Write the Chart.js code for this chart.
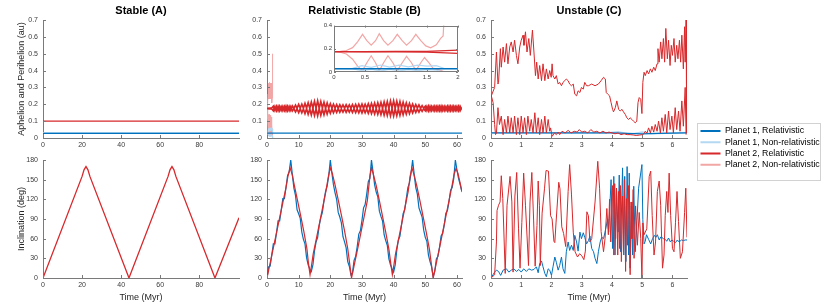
<!DOCTYPE html>
<html>
<head>
<meta charset="utf-8">
<script src="https://cdn.jsdelivr.net/npm/chart.js@4.4.1/dist/chart.umd.min.js"></script>
<style>
  body { margin: 0; width: 830px; height: 305px; background: #fff; position: relative; overflow: hidden; }
  canvas { position: absolute; }
  #legendBox { position: absolute; left: 697px; top: 123px; width: 122px; height: 56px; border: 1px solid #d2d2d2; background: #fff; }
</style>
</head>
<body>
<canvas id="aTop"></canvas>
<canvas id="bTop"></canvas>
<canvas id="cTop"></canvas>
<canvas id="aBot"></canvas>
<canvas id="bBot"></canvas>
<canvas id="cBot"></canvas>
<canvas id="inset"></canvas>
<div id="legendBox"></div>
<canvas id="legend"></canvas>
<script>
// ---- data (au for apsides, deg for inclination, Myr for time) ----
const seriesNames = ['Planet 1, Relativistic', 'Planet 1, Non-relativistic', 'Planet 2, Relativistic', 'Planet 2, Non-relativistic'];

const xTicksA = [0, 20, 40, 60, 80];
const xTicksB = [0, 10, 20, 30, 40, 50, 60];
const xTicksC = [0, 1, 2, 3, 4, 5, 6];
const yTicksAps = [0, 0.1, 0.2, 0.3, 0.4, 0.5, 0.6, 0.7];
const yTicksInc = [0, 30, 60, 90, 120, 150, 180];
const xTicksInset = [0, 0.5, 1, 1.5, 2];
const yTicksInset = [0, 0.2, 0.4];

// Stable (A)
const aP1 = [[0, 0.028], [100.3, 0.028]];
const aP1n = [[0, 0.032], [100.3, 0.032]];
const aP2 = [[0, 0.1], [100.3, 0.1]];
const aInc = [[0, 0], [20, 155], [21, 165], [22, 170], [23, 165], [24, 155], [44, 0],
  [64, 155], [65, 165], [66, 170], [67, 165], [68, 155], [88, 0], [100.3, 92]];

// Relativistic Stable (B): planet 2 apsides sampled every 0.5 Myr
const bStep = 0.5;
const bAp = [
  .175,.176,.177,.178,.189,.163,.188,.162,.189,.164,
  .188,.163,.189,.162,.188,.164,.19,.176,.195,.177,
  .199,.178,.2,.177,.205,.178,.209,.177,.213,.178,
  .217,.178,.22,.177,.216,.178,.212,.177,.208,.178,
  .203,.177,.2,.178,.198,.177,.197,.178,.196,.177,
  .197,.178,.196,.177,.198,.178,.199,.177,.2,.178,
  .201,.177,.2,.178,.203,.177,.205,.178,.207,.177,
  .209,.178,.211,.177,.214,.178,.216,.177,.219,.178,
  .22,.177,.218,.178,.216,.177,.212,.178,.208,.177,
  .205,.178,.201,.177,.198,.178,.196,.177,.192,.176,
  .188,.163,.189,.162,.188,.164,.189,.163,.188,.162,
  .189,.163,.188,.164,.189,.162,.188,.163,.189,.164,
  .188,.162,.189,.17
];
const bPe = [
  .175,.174,.173,.172,.161,.187,.162,.188,.161,.186,
  .162,.187,.161,.188,.162,.186,.16,.173,.155,.172,
  .151,.173,.15,.172,.145,.173,.141,.172,.137,.173,
  .134,.172,.132,.173,.135,.172,.138,.173,.142,.172,
  .147,.173,.15,.172,.152,.173,.153,.172,.154,.173,
  .153,.172,.154,.173,.152,.172,.151,.173,.15,.172,
  .149,.173,.15,.172,.147,.173,.145,.172,.143,.173,
  .141,.172,.139,.173,.136,.172,.134,.173,.132,.172,
  .131,.173,.133,.172,.135,.173,.138,.172,.142,.173,
  .145,.172,.149,.173,.152,.172,.154,.173,.158,.174,
  .162,.187,.161,.188,.162,.186,.161,.187,.162,.188,
  .161,.187,.162,.186,.161,.188,.162,.187,.161,.186,
  .162,.188,.161,.18
];
const bP1 = [[0, 0.029], [61.6, 0.029]];
const bP1nAp = [[0, .03], [0.3, .032], [0.45, .055], [0.6, .04], [0.75, .06], [0.9, .042], [1.05, .06],
  [1.2, .045], [1.35, .06], [1.5, .05], [1.65, .055], [1.78, .03]];
const bP1nPe = [[0, .028], [0.3, .026], [0.45, .012], [0.6, .022], [0.75, .01], [0.9, .022], [1.05, .01],
  [1.2, .02], [1.35, .012], [1.5, .02], [1.65, .015], [1.78, 0]];
const bP2nAp = [[0, .175], [0.1, .178], [0.2, .185], [0.3, .21], [0.38, .26], [0.46, .325], [0.53, .27],
  [0.6, .232], [0.67, .27], [0.73, .33], [0.8, .27], [0.87, .232], [0.95, .27], [1.02, .325], [1.1, .27],
  [1.17, .232], [1.25, .27], [1.32, .325], [1.4, .27], [1.48, .225], [1.56, .208], [1.65, .235],
  [1.72, .29], [1.76, .31], [1.78, .5]];
const bP2nPe = [[0, .175], [0.1, .17], [0.2, .155], [0.3, .11], [0.38, .05], [0.46, .012], [0.53, .08],
  [0.6, .14], [0.67, .08], [0.73, .01], [0.8, .08], [0.87, .14], [0.95, .08], [1.02, .01], [1.1, .08],
  [1.17, .135], [1.25, .08], [1.32, .012], [1.4, .08], [1.46, .125], [1.53, .08], [1.6, .03],
  [1.68, .02], [1.74, .01], [1.78, 0]];
const bIncP2 = [[0, 0], [1, 23], [2, 46], [3, 69], [4, 92], [5, 115], [6, 138], [6.6, 155], [7.3, 168],
  [8, 157], [8.6, 142], [9.6, 119], [10.6, 96], [11.6, 72], [12.6, 45], [13.1, 22], [13.6, 5], [14.1, 20],
  [14.6, 37], [15.6, 60], [16.6, 84], [17.6, 108], [18.6, 132], [19.4, 155], [20, 168], [20.6, 160],
  [21.5, 142], [22.5, 119], [23.5, 96], [24.5, 72], [25.5, 45], [26.7, 0], [27.7, 23], [28.7, 46],
  [29.7, 70], [30.7, 94], [31.7, 118], [32.5, 155], [33, 168], [33.6, 158], [34.5, 141], [35.5, 118],
  [36.5, 94], [37.5, 70], [38.5, 44], [39.1, 22], [39.6, 5], [40.1, 20], [40.6, 37], [41.6, 60],
  [42.6, 84], [43.6, 108], [44.6, 132], [45.2, 155], [45.8, 168], [46.4, 158], [47.3, 141], [48.3, 118],
  [49.3, 94], [50.3, 70], [51.3, 44], [52.5, 0], [53.5, 23], [54.5, 46], [55.5, 70], [56.5, 94],
  [57.5, 118], [58.5, 142], [59.1, 158], [59.7, 167], [60.3, 160], [61, 145], [61.6, 131]];
// planet 1 inclination, every 0.5 Myr
const bIncP1 = [
  0,17,18,35,52,52,69,87,87,104,
  121,121,138,156,162,180,158,137,126,104,
  98,91,70,59,52,31,20,14,10,20,
  41,55,62,80,92,100,118,132,140,156,
  180,160,142,130,120,100,93,84,63,55,
  46,25,18,5,8,27,33,48,67,72,
  88,107,112,128,147,152,180,162,142,131,
  124,102,94,87,66,57,50,29,20,14,
  9,20,42,58,64,81,98,104,121,138,
  145,160,180,158,138,128,107,100,93,73,
  62,56,35,25,17,2,10,29,33,47,
  64,68,81,99,103,117,134,138,152,180,
  165,152,143,133
];

// Unstable (C)
const cAp = [[0.01,.25],[0.12,.30],[0.18,.51],[0.23,.32],[0.25,.33],[0.31,.53],[0.34,.42],[0.40,.54],
  [0.45,.45],[0.51,.56],[0.56,.44],[0.62,.54],[0.67,.57],[0.73,.51],[0.78,.58],[0.84,.49],[0.89,.44],
  [0.95,.54],[1.00,.58],[1.06,.61],[1.09,.55],[1.14,.63],[1.19,.51],[1.25,.59],[1.30,.49],[1.37,.64],
  [1.42,.51],[1.47,.37],[1.51,.45],[1.56,.35],[1.61,.43],[1.67,.34],[1.72,.44],[1.78,.34],[1.83,.41],
  [1.89,.35],[1.94,.40],[1.99,.36],[2.02,.44],[2.05,.37],[2.11,.35],[2.16,.37],[2.22,.32],[2.27,.33],
  [2.33,.31],[2.38,.33],[2.44,.34],[2.49,.35],[2.55,.34],[2.60,.32],[2.66,.31],[2.72,.32],[2.77,.26],
  [2.83,.25],[2.88,.28],[2.94,.27],[2.99,.30],[3.05,.29],[3.10,.33],[3.16,.31],[3.22,.31],[3.33,.32],
  [3.44,.31],[3.55,.32],[3.64,.34],[3.72,.36],[3.78,.35],[3.81,.27],[3.86,.26],[3.92,.25],[3.97,.21],
  [4.02,.17],[4.05,.155],[4.11,.18],[4.16,.22],[4.22,.17],[4.27,.16],[4.33,.17],[4.38,.155],[4.44,.14],
  [4.49,.12],[4.55,.11],[4.60,.12],[4.66,.11],[4.71,.10],[4.77,.09],[4.82,.10],[4.86,.21],[4.90,.24],
  [4.95,.23],[4.99,.145],[5.02,.33],[5.06,.39],[5.10,.37],[5.16,.40],[5.21,.38],[5.27,.41],[5.32,.39],
  [5.38,.42],[5.43,.40],[5.49,.44],[5.52,.53],[5.56,.45],[5.61,.57],[5.65,.47],[5.70,.59],[5.74,.45],
  [5.78,.65],[5.83,.47],[5.87,.58],[5.92,.43],[5.96,.55],[6.00,.49],[6.05,.59],[6.09,.45],[6.14,.55],
  [6.18,.47],[6.23,.58],[6.27,.45],[6.31,.61],[6.36,.41],[6.40,.66],[6.42,.45],[6.45,.70],[6.47,.03]];
const cPe = [[0.01,.25],[0.07,.21],[0.12,.08],[0.15,.02],[0.18,.03],[0.23,.18],[0.28,.08],[0.34,.13],
  [0.40,.02],[0.45,.11],[0.51,.03],[0.56,.13],[0.62,.03],[0.67,.12],[0.73,.03],[0.78,.13],[0.84,.02],
  [0.89,.12],[0.95,.02],[1.00,.13],[1.06,.03],[1.11,.12],[1.17,.02],[1.22,.13],[1.28,.04],[1.33,.11],
  [1.39,.03],[1.45,.15],[1.50,.03],[1.56,.12],[1.61,.02],[1.67,.11],[1.72,.03],[1.78,.13],[1.83,.03],
  [1.89,.11],[1.94,.04],[1.97,.06],[2.02,.01],[2.10,.03],[2.16,.02],[2.22,.035],[2.27,.02],[2.35,.04],
  [2.45,.03],[2.55,.045],[2.65,.03],[2.75,.04],[2.85,.035],[2.92,.05],[3.0,.035],[3.1,.04],[3.2,.03],
  [3.3,.05],[3.4,.035],[3.5,.04],[3.6,.03],[3.7,.04],[3.8,.03],[3.9,.035],[4.0,.03],[4.1,.025],[4.2,.03],
  [4.3,.02],[4.4,.025],[4.5,.02],[4.6,.02],[4.7,.018],[4.8,.015],[4.9,.017],[5.0,.02],[5.06,.026],
  [5.10,.04],[5.16,.03],[5.21,.06],[5.27,.03],[5.32,.07],[5.38,.035],[5.43,.08],[5.49,.04],[5.54,.10],
  [5.60,.03],[5.65,.12],[5.70,.04],[5.76,.14],[5.81,.03],[5.87,.16],[5.92,.05],[5.98,.13],[6.03,.03],
  [6.09,.18],[6.14,.05],[6.20,.16],[6.25,.04],[6.31,.22],[6.36,.07],[6.42,.30],[6.45,.02]];
const cP1 = [[0, .03], [4, .03], [4.5, .028], [5, .025], [5.5, .028], [6.48, .03]];
const cP1n = [[0, .03], [3.8, .03], [4.2, .037], [4.6, .022], [5, .035], [5.3, .025], [6.48, .032]];
const cIncP2 = [[0,0],[0.12,5],[0.18,55],[0.2,103],[0.25,111],[0.3,116],[0.34,156],[0.39,121],[0.47,7],
  [0.53,111],[0.63,155],[0.69,116],[0.73,9],[0.79,125],[0.85,161],[0.91,75],[0.96,15],[1.02,85],[1.08,160],
  [1.14,111],[1.24,19],[1.29,116],[1.35,161],[1.41,87],[1.46,18],[1.52,80],[1.56,148],[1.6,111],[1.63,19],
  [1.69,99],[1.77,137],[1.82,164],[1.9,163],[1.97,95],[2.02,90],[2.08,56],[2.11,54],[2.15,84],[2.24,146],
  [2.28,136],[2.34,78],[2.4,68],[2.47,48],[2.55,132],[2.6,173],[2.66,128],[2.72,70],[2.78,40],[2.86,32],
  [2.93,37],[3.0,34],[3.07,28],[3.12,41],[3.17,101],[3.22,95],[3.27,55],[3.33,60],[3.44,116],[3.53,178],
  [3.59,137],[3.64,71],[3.72,40],[3.77,60],[3.83,106],[3.88,66],[3.92,120],[3.96,55],[4.02,141],[4.06,35],
  [4.09,144],[4.12,60],[4.15,137],[4.19,35],[4.22,132],[4.25,45],[4.28,141],[4.31,25],[4.35,125],[4.38,40],
  [4.41,150],[4.45,10],[4.48,121],[4.51,50],[4.55,141],[4.6,5],[4.63,116],[4.66,60],[4.7,135],[4.73,30],
  [4.78,110],[4.84,50],[4.9,100],[4.95,60],[4.99,0],[5.02,84],[5.06,66],[5.15,75],[5.23,155],[5.28,163],
  [5.33,95],[5.39,35],[5.44,55],[5.5,132],[5.56,148],[5.61,111],[5.67,15],[5.72,35],[5.76,95],[5.81,132],
  [5.85,100],[5.89,160],[5.94,95],[6.0,45],[6.05,40],[6.1,85],[6.15,132],[6.2,86],[6.26,30],[6.33,40],
  [6.4,100],[6.44,137],[6.48,62]];
const cIncP1 = [[0,0],[0.12,9],[0.18,12],[0.25,10],[0.32,4],[0.4,12],[0.51,14],[0.59,9],[0.67,12],[0.76,14],
  [0.84,10],[0.92,13],[1.0,9],[1.08,14],[1.17,10],[1.25,14],[1.34,12],[1.42,13],[1.5,17],[1.56,8],[1.61,22],
  [1.67,26],[1.72,17],[1.78,7],[1.83,2],[1.89,14],[1.94,12],[2.0,4],[2.05,17],[2.11,32],[2.16,24],[2.22,12],
  [2.27,19],[2.33,32],[2.38,14],[2.44,7],[2.49,40],[2.55,55],[2.6,42],[2.66,50],[2.72,42],[2.77,65],[2.83,55],
  [2.88,41],[2.94,70],[2.99,60],[3.05,69],[3.1,62],[3.16,52],[3.22,57],[3.27,64],[3.33,45],[3.39,40],[3.44,30],
  [3.5,22],[3.55,40],[3.61,55],[3.66,62],[3.72,60],[3.77,70],[3.83,84],[3.86,90],[3.89,70],[3.97,150],[4.02,45],
  [4.06,155],[4.1,35],[4.15,137],[4.2,70],[4.24,157],[4.28,40],[4.35,168],[4.39,35],[4.42,155],[4.46,25],
  [4.5,170],[4.55,35],[4.57,160],[4.6,15],[4.64,110],[4.68,35],[4.72,140],[4.77,40],[4.83,90],[4.88,137],
  [4.99,173],[5.02,89],[5.06,52],[5.1,56],[5.14,66],[5.21,59],[5.28,52],[5.34,60],[5.4,65],[5.45,62],[5.5,66],
  [5.56,58],[5.62,63],[5.7,60],[5.76,59],[5.81,56],[5.87,61],[5.93,55],[5.98,58],[6.04,56],[6.1,54],[6.16,58],
  [6.22,55],[6.3,58],[6.36,57],[6.42,58],[6.48,58]];

// ---- styling ----
Chart.defaults.font.family = "'Liberation Sans', Arial, Helvetica, sans-serif";
const AXIS = '#7a7a7a', TICK = '#3a3a3a', LABEL = '#262626';
const C_P1 = '#0072BD', C_P1N = '#B5D8F2', C_P2 = '#D7282B', C_P2N = '#F2A6A6';

const bApPts = bAp.map((v, i) => [i * bStep, v]);
const bPePts = bPe.map((v, i) => [i * bStep, v]);
const bIncP1Pts = bIncP1.map((v, i) => [i * bStep, v]);

function line(data, color, width) {
  return { data, borderColor: color, borderWidth: width || 1, pointRadius: 0, tension: 0, fill: false };
}

// MATLAB-like inward tick marks, optional full box with white background
const matlabTicks = {
  id: 'matlabTicks',
  beforeDraw(chart, args, o) {
    if (!o.box) return;
    const a = chart.chartArea, ctx = chart.ctx;
    ctx.save();
    ctx.fillStyle = '#fff';
    ctx.fillRect(a.left, a.top, a.right - a.left, a.bottom - a.top);
    ctx.restore();
  },
  afterDraw(chart, args, o) {
    const { ctx, chartArea: a, scales: { x, y } } = chart;
    const len = o.len || 3;
    ctx.save();
    ctx.strokeStyle = AXIS;
    ctx.lineWidth = 1;
    ctx.beginPath();
    x.ticks.forEach(t => {
      const px = Math.round(x.getPixelForValue(t.value)) + 0.5;
      ctx.moveTo(px, a.bottom); ctx.lineTo(px, a.bottom - len);
      if (o.box) { ctx.moveTo(px, a.top); ctx.lineTo(px, a.top + len); }
    });
    y.ticks.forEach(t => {
      const py = Math.round(y.getPixelForValue(t.value)) + 0.5;
      ctx.moveTo(a.left, py); ctx.lineTo(a.left + len, py);
      if (o.box) { ctx.moveTo(a.right, py); ctx.lineTo(a.right - len, py); }
    });
    if (o.box) ctx.rect(Math.round(a.left) + 0.5, Math.round(a.top) + 0.5, Math.round(a.right - a.left) - 1, Math.round(a.bottom - a.top) - 1);
    ctx.stroke();
    ctx.restore();
  }
};

function axis(min, max, ticks, o) {
  return {
    type: 'linear', min, max,
    afterBuildTicks: s => { s.ticks = ticks.map(v => ({ value: v })); },
    afterFit: o.fit,
    grid: { display: false, drawTicks: false },
    border: { display: !o.box, color: AXIS, width: 1 },
    ticks: { font: { size: o.fontSize || 7 }, color: TICK, padding: o.tickPad || 4, autoSkip: false, maxRotation: 0,
      callback: v => String(+v.toFixed(2)) },
    title: o.title ? { display: true, text: o.title, color: LABEL, font: { size: 9 }, padding: o.titlePad } : { display: false }
  };
}

// box = plot box on the page [left, top, right, bottom]; pad = room around it [l, t, r, b]
function makePanel(id, box, pad, cfg) {
  const [L, T, R, B] = box;
  const cv = document.getElementById(id);
  cv.width = R - L + pad[0] + pad[2];
  cv.height = B - T + pad[1] + pad[3];
  cv.style.left = (L - pad[0]) + 'px';
  cv.style.top = (T - pad[1]) + 'px';
  const titleH = cfg.title ? 20 : 0;
  return new Chart(cv, {
    type: 'line',
    data: { datasets: cfg.datasets },
    options: {
      responsive: false,
      animation: false,
      events: [],
      layout: { padding: { left: 0, top: pad[1] - titleH, right: pad[2], bottom: 0 } },
      plugins: {
        legend: { display: false },
        tooltip: { enabled: false },
        title: cfg.title
          ? { display: true, text: cfg.title, fullSize: false, color: '#000',
              font: { size: 11, weight: 'bold', lineHeight: 1.2 }, padding: { top: 4.2, bottom: 2.6 } }
          : { display: false },
        matlabTicks: { box: !!cfg.box, len: cfg.tickLen || 3 }
      },
      scales: {
        x: axis(cfg.x[0], cfg.x[1], cfg.xTicks, {
          box: cfg.box, fontSize: cfg.fontSize, tickPad: cfg.xPad || 3,
          fit: s => { s.height = pad[3]; },
          title: cfg.xTitle, titlePad: { top: 0, bottom: 1 }
        }),
        y: axis(cfg.y[0], cfg.y[1], cfg.yTicks, {
          box: cfg.box, fontSize: cfg.fontSize, tickPad: cfg.yPad || 5,
          fit: s => { s.width = pad[0]; },
          title: cfg.yTitle, titlePad: { top: 16, bottom: 0 }
        })
      }
    },
    plugins: [matlabTicks]
  });
}

const colL = [43, 267, 491], colR = [239, 462, 687];
const topRow = [20, 138], botRow = [160, 278];
const padMain = [43, 20, 8, 26];

makePanel('aTop', [colL[0], topRow[0], colR[0], topRow[1]], padMain, {
  title: 'Stable (A)', x: [0, 100.3], y: [0, 0.7], xTicks: xTicksA, yTicks: yTicksAps,
  yTitle: 'Aphelion and Perihelion (au)',
  datasets: [line(aP2, C_P2, 1.2), line(aP1, C_P1, 1.2), line(aP1n, C_P1N, 1.2)]
});
makePanel('bTop', [colL[1], topRow[0], colR[1], topRow[1]], padMain, {
  title: 'Relativistic Stable (B)', x: [0, 61.6], y: [0, 0.7], xTicks: xTicksB, yTicks: yTicksAps,
  datasets: [line(bApPts, C_P2, 1.7), line(bPePts, C_P2, 1.7), line(bP1, C_P1, 1.2),
    line(bP1nAp, C_P1N), line(bP1nPe, C_P1N), line(bP2nAp, C_P2N), line(bP2nPe, C_P2N)]
});
makePanel('cTop', [colL[2], topRow[0], colR[2], topRow[1]], padMain, {
  title: 'Unstable (C)', x: [0, 6.48], y: [0, 0.7], xTicks: xTicksC, yTicks: yTicksAps,
  datasets: [line(cAp, C_P2), line(cPe, C_P2), line(cP1, C_P1, 1.2), line(cP1n, C_P1N, 1.5)]
});
makePanel('aBot', [colL[0], botRow[0], colR[0], botRow[1]], padMain, {
  x: [0, 100.3], y: [0, 180], xTicks: xTicksA, yTicks: yTicksInc,
  xTitle: 'Time (Myr)', yTitle: 'Inclination (deg)',
  datasets: [line(aInc, C_P2, 1.3)]
});
makePanel('bBot', [colL[1], botRow[0], colR[1], botRow[1]], padMain, {
  x: [0, 61.6], y: [0, 180], xTicks: xTicksB, yTicks: yTicksInc, xTitle: 'Time (Myr)',
  datasets: [line(bIncP2, C_P2, 1.2), line(bIncP1Pts, C_P1, 1.2)]
});
makePanel('cBot', [colL[2], botRow[0], colR[2], botRow[1]], padMain, {
  x: [0, 6.48], y: [0, 180], xTicks: xTicksC, yTicks: yTicksInc, xTitle: 'Time (Myr)',
  datasets: [line(cIncP2, C_P2), line(cIncP1, C_P1)]
});
// zoomed inset of the first 2 Myr of panel B
makePanel('inset', [334, 23, 458, 72], [14, 3, 5, 10], {
  box: true, x: [0, 2], y: [0, 0.4], xTicks: xTicksInset, yTicks: yTicksInset,
  fontSize: 6, xPad: 2, yPad: 2, tickLen: 2,
  datasets: [line(bApPts, C_P2, 1.2), line(bPePts, C_P2, 1.2), line(bP1, C_P1, 1.5),
    line(bP1nAp, C_P1N, 1.2), line(bP1nPe, C_P1N, 1.2), line(bP2nAp, C_P2N, 1.2), line(bP2nPe, C_P2N, 1.2)]
});

// legend (canvas taller/wider than the box: Chart.js gives a top legend at most half the height)
const legendColors = [C_P1, C_P1N, C_P2, C_P2N];
const lg = document.getElementById('legend');
lg.width = 130; lg.height = 120;
lg.style.left = '698px'; lg.style.top = '124px';
new Chart(lg, {
  type: 'line',
  data: { datasets: seriesNames.map((name, i) => ({ label: name, data: [], borderColor: legendColors[i], borderWidth: 2 })) },
  options: {
    responsive: false, animation: false, events: [],
    layout: { padding: 0 },
    scales: { x: { display: false }, y: { display: false } },
    plugins: {
      tooltip: { enabled: false },
      legend: {
        position: 'top', align: 'start',
        labels: { usePointStyle: true, pointStyle: 'line', pointStyleWidth: 20, padding: 2.5,
          font: { size: 8.8 }, color: '#000' }
      }
    }
  }
});
</script>
</body>
</html>
